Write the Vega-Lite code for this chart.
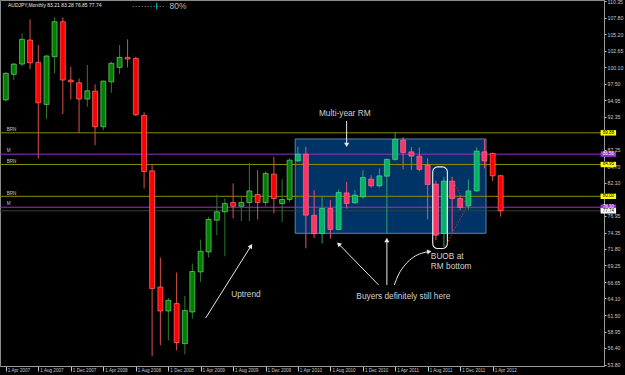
{
  "$schema": "https://vega.github.io/schema/vega-lite/v6.json",
  "width": 604,
  "height": 366,
  "autosize": {"type": "none"},
  "padding": {"left": 0, "top": 0, "right": 21, "bottom": 9},
  "background": "#000000",
  "config": {
    "view": {"stroke": "#8c8c8c", "strokeWidth": 1, "fill": "#000000"},
    "text": {"font": "Liberation Sans"},
    "axisX": {"labelAlign": "left", "labelBaseline": "top", "labelPadding": -4, "labelOffset": 1.5, "tickSize": 5, "labelOverlap": false, "labelFlush": false, "labelFontSize": 4.6, "labelFont": "Liberation Sans", "labelColor": "#c8c8c8", "tickColor": "#c8c8c8", "domainColor": "#9a9a9a", "grid": false},
    "axisY": {"labelPadding": 1, "tickSize": 2, "labelOverlap": false, "labelFlush": false, "labelFontSize": 5.2, "labelFont": "Liberation Sans", "labelColor": "#c8c8c8", "tickColor": "#c8c8c8", "domainColor": "#9a9a9a", "grid": false}
  },
  "datasets": {
    "candles": [
      {"date": "2007-04-01", "open": 94.99, "high": 99.3, "low": 94.8, "close": 99.14},
      {"date": "2007-05-01", "open": 98.98, "high": 100.75, "low": 98.09, "close": 100.58},
      {"date": "2007-06-01", "open": 100.58, "high": 105.36, "low": 100.2, "close": 104.43},
      {"date": "2007-07-01", "open": 104.32, "high": 107.54, "low": 99.8, "close": 100.78},
      {"date": "2007-08-01", "open": 100.85, "high": 103.54, "low": 85.89, "close": 94.55},
      {"date": "2007-09-01", "open": 94.3, "high": 102.0, "low": 92.01, "close": 101.83},
      {"date": "2007-10-01", "open": 101.72, "high": 107.85, "low": 99.13, "close": 107.17},
      {"date": "2007-11-01", "open": 107.17, "high": 107.85, "low": 92.79, "close": 98.09},
      {"date": "2007-12-01", "open": 98.09, "high": 100.16, "low": 95.08, "close": 97.82},
      {"date": "2008-01-01", "open": 97.67, "high": 98.35, "low": 89.88, "close": 95.13},
      {"date": "2008-02-01", "open": 95.13, "high": 100.43, "low": 93.93, "close": 96.42},
      {"date": "2008-03-01", "open": 96.37, "high": 97.42, "low": 87.96, "close": 90.82},
      {"date": "2008-04-01", "open": 90.82, "high": 98.0, "low": 90.3, "close": 97.93},
      {"date": "2008-05-01", "open": 97.82, "high": 100.94, "low": 96.11, "close": 100.69},
      {"date": "2008-06-01", "open": 100.07, "high": 103.54, "low": 99.02, "close": 101.62},
      {"date": "2008-07-01", "open": 101.62, "high": 104.43, "low": 100.07, "close": 101.36},
      {"date": "2008-08-01", "open": 101.47, "high": 101.72, "low": 92.5, "close": 92.68},
      {"date": "2008-09-01", "open": 92.59, "high": 93.06, "low": 81.22, "close": 83.87},
      {"date": "2008-10-01", "open": 83.96, "high": 85.0, "low": 55.1, "close": 65.64},
      {"date": "2008-11-01", "open": 65.89, "high": 70.47, "low": 56.81, "close": 62.15},
      {"date": "2008-12-01", "open": 62.15, "high": 64.18, "low": 57.59, "close": 63.82},
      {"date": "2009-01-01", "open": 63.31, "high": 68.13, "low": 56.03, "close": 57.23},
      {"date": "2009-02-01", "open": 57.07, "high": 64.49, "low": 55.41, "close": 62.22},
      {"date": "2009-03-01", "open": 62.0, "high": 69.54, "low": 60.97, "close": 68.29},
      {"date": "2009-04-01", "open": 68.23, "high": 73.27, "low": 66.67, "close": 71.45},
      {"date": "2009-05-01", "open": 71.34, "high": 76.8, "low": 70.47, "close": 76.39},
      {"date": "2009-06-01", "open": 76.28, "high": 80.28, "low": 73.95, "close": 77.58},
      {"date": "2009-07-01", "open": 77.58, "high": 79.66, "low": 70.68, "close": 78.88},
      {"date": "2009-08-01", "open": 79.04, "high": 82.0, "low": 76.55, "close": 78.46},
      {"date": "2009-09-01", "open": 78.46, "high": 79.91, "low": 76.17, "close": 79.04},
      {"date": "2009-10-01", "open": 79.04, "high": 85.21, "low": 76.17, "close": 80.84},
      {"date": "2009-11-01", "open": 80.28, "high": 84.07, "low": 76.39, "close": 79.04},
      {"date": "2009-12-01", "open": 79.04, "high": 83.9, "low": 78.46, "close": 83.56},
      {"date": "2010-01-01", "open": 83.45, "high": 86.14, "low": 77.33, "close": 79.66},
      {"date": "2010-02-01", "open": 78.88, "high": 82.67, "low": 76.02, "close": 79.51},
      {"date": "2010-03-01", "open": 79.51, "high": 85.89, "low": 79.13, "close": 85.63},
      {"date": "2010-04-01", "open": 85.52, "high": 87.7, "low": 85.36, "close": 86.56},
      {"date": "2010-05-01", "open": 86.56, "high": 87.7, "low": 71.9, "close": 77.06},
      {"date": "2010-06-01", "open": 77.06, "high": 80.95, "low": 73.53, "close": 74.21},
      {"date": "2010-07-01", "open": 74.21, "high": 79.91, "low": 72.65, "close": 78.1},
      {"date": "2010-08-01", "open": 78.1, "high": 79.4, "low": 73.43, "close": 74.83},
      {"date": "2010-09-01", "open": 74.83, "high": 81.06, "low": 74.72, "close": 80.6},
      {"date": "2010-10-01", "open": 80.53, "high": 82.25, "low": 78.1, "close": 78.88},
      {"date": "2010-11-01", "open": 78.98, "high": 80.95, "low": 78.88, "close": 80.18},
      {"date": "2010-12-01", "open": 79.91, "high": 84.07, "low": 79.66, "close": 82.93},
      {"date": "2011-01-01", "open": 82.67, "high": 83.29, "low": 81.37, "close": 81.63},
      {"date": "2011-02-01", "open": 81.63, "high": 84.33, "low": 81.37, "close": 83.18},
      {"date": "2011-03-01", "open": 83.13, "high": 85.89, "low": 74.2, "close": 85.74},
      {"date": "2011-04-01", "open": 85.74, "high": 90.0, "low": 85.52, "close": 88.85},
      {"date": "2011-05-01", "open": 88.74, "high": 89.2, "low": 84.2, "close": 86.83},
      {"date": "2011-06-01", "open": 86.92, "high": 87.7, "low": 84.07, "close": 86.25},
      {"date": "2011-07-01", "open": 86.25, "high": 87.6, "low": 83.9, "close": 84.18},
      {"date": "2011-08-01", "open": 84.85, "high": 85.9, "low": 76.4, "close": 81.84},
      {"date": "2011-09-01", "open": 81.89, "high": 82.41, "low": 73.17, "close": 73.95},
      {"date": "2011-10-01", "open": 74.21, "high": 83.03, "low": 72.12, "close": 82.36},
      {"date": "2011-11-01", "open": 82.36, "high": 83.03, "low": 74.46, "close": 79.66},
      {"date": "2011-12-01", "open": 79.66, "high": 80.18, "low": 77.84, "close": 78.26},
      {"date": "2012-01-01", "open": 78.51, "high": 82.62, "low": 77.95, "close": 80.84},
      {"date": "2012-02-01", "open": 80.84, "high": 87.6, "low": 80.69, "close": 87.03},
      {"date": "2012-03-01", "open": 86.92, "high": 88.85, "low": 84.33, "close": 85.52},
      {"date": "2012-04-01", "open": 86.67, "high": 86.8, "low": 82.36, "close": 83.18},
      {"date": "2012-05-01", "open": 83.21, "high": 83.28, "low": 76.85, "close": 77.74}
    ],
    "levels": [
      {"v": 89.88, "kind": "BRN"},
      {"v": 86.56, "kind": "M"},
      {"v": 84.95, "kind": "BRN"},
      {"v": 80.0, "kind": "BRN"},
      {"v": 78.3, "kind": "M"},
      {"v": 77.74, "kind": "bid"}
    ],
    "arrows": [
      {"id": "rm", "date": "2010-10-01", "v": 91.72, "seq": 0},
      {"id": "rm", "date": "2010-10-01", "v": 88.0, "seq": 1},
      {"id": "up", "date": "2009-04-20", "v": 61.06, "seq": 0},
      {"id": "up", "date": "2009-10-07", "v": 72.27, "seq": 1},
      {"id": "ba", "date": "2011-01-29", "v": 66.2, "seq": 0},
      {"id": "ba", "date": "2010-09-01", "v": 72.58, "seq": 1},
      {"id": "bb", "date": "2011-03-01", "v": 66.2, "seq": 0},
      {"id": "bb", "date": "2011-03-01", "v": 73.2, "seq": 1},
      {"id": "bc", "date": "2011-03-29", "v": 66.2, "seq": 0},
      {"id": "bc", "date": "2011-04-13", "v": 67.75, "seq": 1},
      {"id": "bc", "date": "2011-05-08", "v": 69.31, "seq": 2},
      {"id": "bc", "date": "2011-06-08", "v": 70.51, "seq": 3},
      {"id": "bc", "date": "2011-07-09", "v": 71.13, "seq": 4},
      {"id": "bc", "date": "2011-08-07", "v": 71.38, "seq": 5}
    ]
  },
  "layer": [
    {
      "data": {"values": [{"date": "2010-03-22", "date2": "2012-03-07", "v": 88.92, "v2": 74.24}]},
      "mark": {"type": "rect", "fill": "#003366", "stroke": "#5d83ad", "strokeWidth": 1},
      "encoding": {
        "x": {"field": "date", "type": "temporal", "title": null, "scale": {"type": "utc", "domain": [1175126400000, 1367712000000]}, "axis": {"values": [1175385600000, 1185926400000, 1196467200000, 1207008000000, 1217548800000, 1228089600000, 1238544000000, 1249084800000, 1259625600000, 1270080000000, 1280620800000, 1291161600000, 1301616000000, 1312156800000, 1322697600000, 1333238400000], "labelExpr": "utcFormat(datum.value, '%-d %b %Y')"}},
        "x2": {"field": "date2"},
        "y": {"field": "v", "type": "quantitative", "title": null, "scale": {"domain": [53.59, 110.55], "nice": false, "zero": false}, "axis": {"orient": "right", "values": [53.8, 56.4, 58.95, 61.5, 64.1, 66.65, 69.25, 71.8, 74.35, 76.95, 82.1, 84.7, 87.25, 92.35, 94.95, 97.5, 100.1, 102.65, 105.2, 107.8, 110.35], "format": ".2f"}},
        "y2": {"field": "v2"}
      }
    },
    {
      "data": {"name": "levels"},
      "mark": {"type": "rule", "strokeWidth": 1},
      "encoding": {
        "y": {"field": "v", "type": "quantitative", "title": null, "scale": {"domain": [53.59, 110.55], "nice": false, "zero": false}, "axis": {"orient": "right", "values": [53.8, 56.4, 58.95, 61.5, 64.1, 66.65, 69.25, 71.8, 74.35, 76.95, 82.1, 84.7, 87.25, 92.35, 94.95, 97.5, 100.1, 102.65, 105.2, 107.8, 110.35], "format": ".2f"}},
        "color": {"condition": [{"test": "datum.kind === 'M'", "value": "#9932cc"}, {"test": "datum.kind === 'bid'", "value": "#3c3c3c"}], "value": "#8c8c00"}
      }
    },
    {
      "data": {"name": "candles"},
      "transform": [{"filter": "!(time(datum.date) >= time('2010-04-01') && time(datum.date) <= time('2012-03-01'))"}],
      "mark": {"type": "rule", "strokeWidth": 1},
      "encoding": {
        "x": {"field": "date", "type": "temporal", "title": null, "scale": {"type": "utc", "domain": [1175126400000, 1367712000000]}, "axis": {"values": [1175385600000, 1185926400000, 1196467200000, 1207008000000, 1217548800000, 1228089600000, 1238544000000, 1249084800000, 1259625600000, 1270080000000, 1280620800000, 1291161600000, 1301616000000, 1312156800000, 1322697600000, 1333238400000], "labelExpr": "utcFormat(datum.value, '%-d %b %Y')"}},
        "y": {"field": "low", "type": "quantitative", "title": null, "scale": {"domain": [53.59, 110.55], "nice": false, "zero": false}, "axis": {"orient": "right", "values": [53.8, 56.4, 58.95, 61.5, 64.1, 66.65, 69.25, 71.8, 74.35, 76.95, 82.1, 84.7, 87.25, 92.35, 94.95, 97.5, 100.1, 102.65, 105.2, 107.8, 110.35], "format": ".2f"}},
        "y2": {"field": "high"},
        "color": {"condition": {"test": "datum.close >= datum.open", "value": "#2f7a2f"}, "value": "#d85050"}
      }
    },
    {
      "data": {"name": "candles"},
      "transform": [{"filter": "!(time(datum.date) >= time('2010-04-01') && time(datum.date) <= time('2012-03-01'))"}],
      "mark": {"type": "bar", "size": 5, "strokeWidth": 0.6},
      "encoding": {
        "x": {"field": "date", "type": "temporal", "title": null, "scale": {"type": "utc", "domain": [1175126400000, 1367712000000]}, "axis": {"values": [1175385600000, 1185926400000, 1196467200000, 1207008000000, 1217548800000, 1228089600000, 1238544000000, 1249084800000, 1259625600000, 1270080000000, 1280620800000, 1291161600000, 1301616000000, 1312156800000, 1322697600000, 1333238400000], "labelExpr": "utcFormat(datum.value, '%-d %b %Y')"}},
        "y": {"field": "open", "type": "quantitative", "title": null, "scale": {"domain": [53.59, 110.55], "nice": false, "zero": false}, "axis": {"orient": "right", "values": [53.8, 56.4, 58.95, 61.5, 64.1, 66.65, 69.25, 71.8, 74.35, 76.95, 82.1, 84.7, 87.25, 92.35, 94.95, 97.5, 100.1, 102.65, 105.2, 107.8, 110.35], "format": ".2f"}},
        "y2": {"field": "close"},
        "fill": {"condition": {"test": "datum.close >= datum.open", "value": "#008000"}, "value": "#ff0000"},
        "stroke": {"condition": {"test": "datum.close >= datum.open", "value": "#8fe08f"}, "value": "#ff8a8a"}
      }
    },
    {
      "data": {"name": "candles"},
      "transform": [{"filter": "time(datum.date) >= time('2010-04-01') && time(datum.date) <= time('2012-03-01')"}],
      "mark": {"type": "rule", "strokeWidth": 1},
      "encoding": {
        "x": {"field": "date", "type": "temporal", "title": null, "scale": {"type": "utc", "domain": [1175126400000, 1367712000000]}, "axis": {"values": [1175385600000, 1185926400000, 1196467200000, 1207008000000, 1217548800000, 1228089600000, 1238544000000, 1249084800000, 1259625600000, 1270080000000, 1280620800000, 1291161600000, 1301616000000, 1312156800000, 1322697600000, 1333238400000], "labelExpr": "utcFormat(datum.value, '%-d %b %Y')"}},
        "y": {"field": "low", "type": "quantitative", "title": null, "scale": {"domain": [53.59, 110.55], "nice": false, "zero": false}, "axis": {"orient": "right", "values": [53.8, 56.4, 58.95, 61.5, 64.1, 66.65, 69.25, 71.8, 74.35, 76.95, 82.1, 84.7, 87.25, 92.35, 94.95, 97.5, 100.1, 102.65, 105.2, 107.8, 110.35], "format": ".2f"}},
        "y2": {"field": "high"},
        "color": {"condition": {"test": "datum.close >= datum.open", "value": "#2fa070"}, "value": "#e85078"}
      }
    },
    {
      "data": {"name": "candles"},
      "transform": [{"filter": "time(datum.date) >= time('2010-04-01') && time(datum.date) <= time('2012-03-01')"}],
      "mark": {"type": "bar", "size": 5, "strokeWidth": 0.6},
      "encoding": {
        "x": {"field": "date", "type": "temporal", "title": null, "scale": {"type": "utc", "domain": [1175126400000, 1367712000000]}, "axis": {"values": [1175385600000, 1185926400000, 1196467200000, 1207008000000, 1217548800000, 1228089600000, 1238544000000, 1249084800000, 1259625600000, 1270080000000, 1280620800000, 1291161600000, 1301616000000, 1312156800000, 1322697600000, 1333238400000], "labelExpr": "utcFormat(datum.value, '%-d %b %Y')"}},
        "y": {"field": "open", "type": "quantitative", "title": null, "scale": {"domain": [53.59, 110.55], "nice": false, "zero": false}, "axis": {"orient": "right", "values": [53.8, 56.4, 58.95, 61.5, 64.1, 66.65, 69.25, 71.8, 74.35, 76.95, 82.1, 84.7, 87.25, 92.35, 94.95, 97.5, 100.1, 102.65, 105.2, 107.8, 110.35], "format": ".2f"}},
        "y2": {"field": "close"},
        "fill": {"condition": {"test": "datum.close >= datum.open", "value": "#00b366"}, "value": "#ff3366"},
        "stroke": {"condition": {"test": "datum.close >= datum.open", "value": "#5fe0a0"}, "value": "#ff7a9a"}
      }
    },
    {
      "data": {"values": [{"date": "2011-08-20", "date2": "2011-10-14", "v": 84.58, "v2": 71.87}]},
      "mark": {"type": "rect", "fillOpacity": 0, "fill": "#000000", "stroke": "#f0f0f0", "strokeWidth": 1.1, "cornerRadius": 5},
      "encoding": {
        "x": {"field": "date", "type": "temporal", "title": null, "scale": {"type": "utc", "domain": [1175126400000, 1367712000000]}, "axis": {"values": [1175385600000, 1185926400000, 1196467200000, 1207008000000, 1217548800000, 1228089600000, 1238544000000, 1249084800000, 1259625600000, 1270080000000, 1280620800000, 1291161600000, 1301616000000, 1312156800000, 1322697600000, 1333238400000], "labelExpr": "utcFormat(datum.value, '%-d %b %Y')"}},
        "x2": {"field": "date2"},
        "y": {"field": "v", "type": "quantitative", "title": null, "scale": {"domain": [53.59, 110.55], "nice": false, "zero": false}, "axis": {"orient": "right", "values": [53.8, 56.4, 58.95, 61.5, 64.1, 66.65, 69.25, 71.8, 74.35, 76.95, 82.1, 84.7, 87.25, 92.35, 94.95, 97.5, 100.1, 102.65, 105.2, 107.8, 110.35], "format": ".2f"}},
        "y2": {"field": "v2"}
      }
    },
    {
      "data": {"values": [
        {"date": "2011-10-27", "v": 83.03, "seq": 0},
        {"date": "2011-12-27", "v": 78.46, "seq": 1},
        {"date": "2011-10-02", "v": 71.87, "seq": 2}
      ]},
      "mark": {"type": "line", "color": "#cc3333", "strokeWidth": 0.9, "strokeDash": [1.5, 1.5]},
      "encoding": {
        "x": {"field": "date", "type": "temporal", "title": null, "scale": {"type": "utc", "domain": [1175126400000, 1367712000000]}, "axis": {"values": [1175385600000, 1185926400000, 1196467200000, 1207008000000, 1217548800000, 1228089600000, 1238544000000, 1249084800000, 1259625600000, 1270080000000, 1280620800000, 1291161600000, 1301616000000, 1312156800000, 1322697600000, 1333238400000], "labelExpr": "utcFormat(datum.value, '%-d %b %Y')"}},
        "y": {"field": "v", "type": "quantitative", "title": null, "scale": {"domain": [53.59, 110.55], "nice": false, "zero": false}, "axis": {"orient": "right", "values": [53.8, 56.4, 58.95, 61.5, 64.1, 66.65, 69.25, 71.8, 74.35, 76.95, 82.1, 84.7, 87.25, 92.35, 94.95, 97.5, 100.1, 102.65, 105.2, 107.8, 110.35], "format": ".2f"}},
        "order": {"field": "seq", "type": "quantitative"}
      }
    },
    {
      "data": {"name": "arrows"},
      "transform": [{"filter": "datum.id !== 'bc'"}],
      "mark": {"type": "line", "color": "#e8e8e8", "strokeWidth": 1},
      "encoding": {
        "x": {"field": "date", "type": "temporal", "title": null, "scale": {"type": "utc", "domain": [1175126400000, 1367712000000]}, "axis": {"values": [1175385600000, 1185926400000, 1196467200000, 1207008000000, 1217548800000, 1228089600000, 1238544000000, 1249084800000, 1259625600000, 1270080000000, 1280620800000, 1291161600000, 1301616000000, 1312156800000, 1322697600000, 1333238400000], "labelExpr": "utcFormat(datum.value, '%-d %b %Y')"}},
        "y": {"field": "v", "type": "quantitative", "title": null, "scale": {"domain": [53.59, 110.55], "nice": false, "zero": false}, "axis": {"orient": "right", "values": [53.8, 56.4, 58.95, 61.5, 64.1, 66.65, 69.25, 71.8, 74.35, 76.95, 82.1, 84.7, 87.25, 92.35, 94.95, 97.5, 100.1, 102.65, 105.2, 107.8, 110.35], "format": ".2f"}},
        "detail": {"field": "id", "type": "nominal"},
        "order": {"field": "seq", "type": "quantitative"}
      }
    },
    {
      "data": {"name": "arrows"},
      "transform": [{"filter": "datum.id === 'bc'"}],
      "mark": {"type": "line", "color": "#e8e8e8", "strokeWidth": 1, "interpolate": "monotone"},
      "encoding": {
        "x": {"field": "date", "type": "temporal", "title": null, "scale": {"type": "utc", "domain": [1175126400000, 1367712000000]}, "axis": {"values": [1175385600000, 1185926400000, 1196467200000, 1207008000000, 1217548800000, 1228089600000, 1238544000000, 1249084800000, 1259625600000, 1270080000000, 1280620800000, 1291161600000, 1301616000000, 1312156800000, 1322697600000, 1333238400000], "labelExpr": "utcFormat(datum.value, '%-d %b %Y')"}},
        "y": {"field": "v", "type": "quantitative", "title": null, "scale": {"domain": [53.59, 110.55], "nice": false, "zero": false}, "axis": {"orient": "right", "values": [53.8, 56.4, 58.95, 61.5, 64.1, 66.65, 69.25, 71.8, 74.35, 76.95, 82.1, 84.7, 87.25, 92.35, 94.95, 97.5, 100.1, 102.65, 105.2, 107.8, 110.35], "format": ".2f"}},
        "order": {"field": "seq", "type": "quantitative"}
      }
    },
    {
      "data": {"name": "arrows"},
      "transform": [{"filter": "(datum.id === 'bc' && datum.seq === 5) || (datum.id !== 'bc' && datum.seq === 1)"}],
      "mark": {"type": "point", "shape": "triangle-up", "filled": true, "color": "#e8e8e8", "size": 26, "opacity": 1},
      "encoding": {
        "x": {"field": "date", "type": "temporal", "title": null, "scale": {"type": "utc", "domain": [1175126400000, 1367712000000]}, "axis": {"values": [1175385600000, 1185926400000, 1196467200000, 1207008000000, 1217548800000, 1228089600000, 1238544000000, 1249084800000, 1259625600000, 1270080000000, 1280620800000, 1291161600000, 1301616000000, 1312156800000, 1322697600000, 1333238400000], "labelExpr": "utcFormat(datum.value, '%-d %b %Y')"}},
        "y": {"field": "v", "type": "quantitative", "title": null, "scale": {"domain": [53.59, 110.55], "nice": false, "zero": false}, "axis": {"orient": "right", "values": [53.8, 56.4, 58.95, 61.5, 64.1, 66.65, 69.25, 71.8, 74.35, 76.95, 82.1, 84.7, 87.25, 92.35, 94.95, 97.5, 100.1, 102.65, 105.2, 107.8, 110.35], "format": ".2f"}},
        "angle": {"condition": [
          {"test": "datum.id === 'rm'", "value": 180},
          {"test": "datum.id === 'up'", "value": 33},
          {"test": "datum.id === 'ba'", "value": 315},
          {"test": "datum.id === 'bc'", "value": 81}
        ], "value": 0}
      }
    },
    {
      "data": {"values": [
        {"date": "2010-09-24", "v": 92.81, "label": "Multi-year RM"},
        {"date": "2009-09-18", "v": 64.64, "label": "Uptrend"},
        {"date": "2011-05-02", "v": 64.33, "label": "Buyers definitely still here"}
      ]},
      "mark": {"type": "text", "fontSize": 8.3, "color": "#d2d2d2", "align": "center", "baseline": "middle"},
      "encoding": {
        "x": {"field": "date", "type": "temporal", "title": null, "scale": {"type": "utc", "domain": [1175126400000, 1367712000000]}, "axis": {"values": [1175385600000, 1185926400000, 1196467200000, 1207008000000, 1217548800000, 1228089600000, 1238544000000, 1249084800000, 1259625600000, 1270080000000, 1280620800000, 1291161600000, 1301616000000, 1312156800000, 1322697600000, 1333238400000], "labelExpr": "utcFormat(datum.value, '%-d %b %Y')"}},
        "y": {"field": "v", "type": "quantitative", "title": null, "scale": {"domain": [53.59, 110.55], "nice": false, "zero": false}, "axis": {"orient": "right", "values": [53.8, 56.4, 58.95, 61.5, 64.1, 66.65, 69.25, 71.8, 74.35, 76.95, 82.1, 84.7, 87.25, 92.35, 94.95, 97.5, 100.1, 102.65, 105.2, 107.8, 110.35], "format": ".2f"}},
        "text": {"field": "label"}
      }
    },
    {
      "data": {"values": [
        {"date": "2011-08-13", "v": 70.57, "label": "BUOB at"},
        {"date": "2011-08-13", "v": 69.07, "label": "RM bottom"}
      ]},
      "mark": {"type": "text", "fontSize": 8.3, "color": "#d2d2d2", "align": "left", "baseline": "middle"},
      "encoding": {
        "x": {"field": "date", "type": "temporal", "title": null, "scale": {"type": "utc", "domain": [1175126400000, 1367712000000]}, "axis": {"values": [1175385600000, 1185926400000, 1196467200000, 1207008000000, 1217548800000, 1228089600000, 1238544000000, 1249084800000, 1259625600000, 1270080000000, 1280620800000, 1291161600000, 1301616000000, 1312156800000, 1322697600000, 1333238400000], "labelExpr": "utcFormat(datum.value, '%-d %b %Y')"}},
        "y": {"field": "v", "type": "quantitative", "title": null, "scale": {"domain": [53.59, 110.55], "nice": false, "zero": false}, "axis": {"orient": "right", "values": [53.8, 56.4, 58.95, 61.5, 64.1, 66.65, 69.25, 71.8, 74.35, 76.95, 82.1, 84.7, 87.25, 92.35, 94.95, 97.5, 100.1, 102.65, 105.2, 107.8, 110.35], "format": ".2f"}},
        "text": {"field": "label"}
      }
    },
    {
      "data": {"values": [{"date": "2007-04-09", "v": 109.77, "label": "AUDJPY,Monthly   83.21 83.28 76.85 77.74"}]},
      "mark": {"type": "text", "fontSize": 5, "color": "#e6e6e6", "align": "left", "baseline": "middle"},
      "encoding": {
        "x": {"field": "date", "type": "temporal", "title": null, "scale": {"type": "utc", "domain": [1175126400000, 1367712000000]}, "axis": {"values": [1175385600000, 1185926400000, 1196467200000, 1207008000000, 1217548800000, 1228089600000, 1238544000000, 1249084800000, 1259625600000, 1270080000000, 1280620800000, 1291161600000, 1301616000000, 1312156800000, 1322697600000, 1333238400000], "labelExpr": "utcFormat(datum.value, '%-d %b %Y')"}},
        "y": {"field": "v", "type": "quantitative", "title": null, "scale": {"domain": [53.59, 110.55], "nice": false, "zero": false}, "axis": {"orient": "right", "values": [53.8, 56.4, 58.95, 61.5, 64.1, 66.65, 69.25, 71.8, 74.35, 76.95, 82.1, 84.7, 87.25, 92.35, 94.95, 97.5, 100.1, 102.65, 105.2, 107.8, 110.35], "format": ".2f"}},
        "text": {"field": "label"}
      }
    },
    {
      "data": {"values": [{"date": "2009-01-06", "v": 109.69, "label": "80%"}]},
      "mark": {"type": "text", "fontSize": 8.5, "color": "#bdbdbd", "align": "center", "baseline": "middle"},
      "encoding": {
        "x": {"field": "date", "type": "temporal", "title": null, "scale": {"type": "utc", "domain": [1175126400000, 1367712000000]}, "axis": {"values": [1175385600000, 1185926400000, 1196467200000, 1207008000000, 1217548800000, 1228089600000, 1238544000000, 1249084800000, 1259625600000, 1270080000000, 1280620800000, 1291161600000, 1301616000000, 1312156800000, 1322697600000, 1333238400000], "labelExpr": "utcFormat(datum.value, '%-d %b %Y')"}},
        "y": {"field": "v", "type": "quantitative", "title": null, "scale": {"domain": [53.59, 110.55], "nice": false, "zero": false}, "axis": {"orient": "right", "values": [53.8, 56.4, 58.95, 61.5, 64.1, 66.65, 69.25, 71.8, 74.35, 76.95, 82.1, 84.7, 87.25, 92.35, 94.95, 97.5, 100.1, 102.65, 105.2, 107.8, 110.35], "format": ".2f"}},
        "text": {"field": "label"}
      }
    },
    {
      "data": {"values": [{"date": "2008-07-20", "date2": "2008-11-19", "v": 109.54}]},
      "mark": {"type": "rule", "color": "#9a9a9a", "strokeWidth": 1, "strokeDash": [1, 2]},
      "encoding": {
        "x": {"field": "date", "type": "temporal", "title": null, "scale": {"type": "utc", "domain": [1175126400000, 1367712000000]}, "axis": {"values": [1175385600000, 1185926400000, 1196467200000, 1207008000000, 1217548800000, 1228089600000, 1238544000000, 1249084800000, 1259625600000, 1270080000000, 1280620800000, 1291161600000, 1301616000000, 1312156800000, 1322697600000, 1333238400000], "labelExpr": "utcFormat(datum.value, '%-d %b %Y')"}},
        "x2": {"field": "date2"},
        "y": {"field": "v", "type": "quantitative", "title": null, "scale": {"domain": [53.59, 110.55], "nice": false, "zero": false}, "axis": {"orient": "right", "values": [53.8, 56.4, 58.95, 61.5, 64.1, 66.65, 69.25, 71.8, 74.35, 76.95, 82.1, 84.7, 87.25, 92.35, 94.95, 97.5, 100.1, 102.65, 105.2, 107.8, 110.35], "format": ".2f"}}
      }
    },
    {
      "data": {"values": [{"date": "2008-10-18", "v": 110.13, "v2": 109.1}]},
      "mark": {"type": "rule", "color": "#00c0c0", "strokeWidth": 1},
      "encoding": {
        "x": {"field": "date", "type": "temporal", "title": null, "scale": {"type": "utc", "domain": [1175126400000, 1367712000000]}, "axis": {"values": [1175385600000, 1185926400000, 1196467200000, 1207008000000, 1217548800000, 1228089600000, 1238544000000, 1249084800000, 1259625600000, 1270080000000, 1280620800000, 1291161600000, 1301616000000, 1312156800000, 1322697600000, 1333238400000], "labelExpr": "utcFormat(datum.value, '%-d %b %Y')"}},
        "y": {"field": "v", "type": "quantitative", "title": null, "scale": {"domain": [53.59, 110.55], "nice": false, "zero": false}, "axis": {"orient": "right", "values": [53.8, 56.4, 58.95, 61.5, 64.1, 66.65, 69.25, 71.8, 74.35, 76.95, 82.1, 84.7, 87.25, 92.35, 94.95, 97.5, 100.1, 102.65, 105.2, 107.8, 110.35], "format": ".2f"}},
        "y2": {"field": "v2"}
      }
    },
    {
      "data": {"name": "levels"},
      "transform": [{"filter": "datum.kind !== 'bid'"}],
      "mark": {"type": "text", "fontSize": 4.5, "color": "#c8c8c8", "align": "left", "baseline": "bottom", "dx": 1.5, "dy": -0.8},
      "encoding": {
        "x": {"datum": 1175212800000, "type": "temporal", "title": null, "scale": {"type": "utc", "domain": [1175126400000, 1367712000000]}, "axis": {"values": [1175385600000, 1185926400000, 1196467200000, 1207008000000, 1217548800000, 1228089600000, 1238544000000, 1249084800000, 1259625600000, 1270080000000, 1280620800000, 1291161600000, 1301616000000, 1312156800000, 1322697600000, 1333238400000], "labelExpr": "utcFormat(datum.value, '%-d %b %Y')"}},
        "y": {"field": "v", "type": "quantitative", "title": null, "scale": {"domain": [53.59, 110.55], "nice": false, "zero": false}, "axis": {"orient": "right", "values": [53.8, 56.4, 58.95, 61.5, 64.1, 66.65, 69.25, 71.8, 74.35, 76.95, 82.1, 84.7, 87.25, 92.35, 94.95, 97.5, 100.1, 102.65, 105.2, 107.8, 110.35], "format": ".2f"}},
        "text": {"field": "kind"}
      }
    },
    {
      "data": {"name": "levels"},
      "mark": {"type": "point", "shape": "M-1,-0.35L1,-0.35L1,0.35L-1,0.35Z", "filled": true, "size": 240, "opacity": 1, "strokeWidth": 0},
      "encoding": {
        "x": {"datum": 1370736000000, "type": "temporal", "title": null, "scale": {"type": "utc", "domain": [1175126400000, 1367712000000]}, "axis": {"values": [1175385600000, 1185926400000, 1196467200000, 1207008000000, 1217548800000, 1228089600000, 1238544000000, 1249084800000, 1259625600000, 1270080000000, 1280620800000, 1291161600000, 1301616000000, 1312156800000, 1322697600000, 1333238400000], "labelExpr": "utcFormat(datum.value, '%-d %b %Y')"}},
        "y": {"field": "v", "type": "quantitative", "title": null, "scale": {"domain": [53.59, 110.55], "nice": false, "zero": false}, "axis": {"orient": "right", "values": [53.8, 56.4, 58.95, 61.5, 64.1, 66.65, 69.25, 71.8, 74.35, 76.95, 82.1, 84.7, 87.25, 92.35, 94.95, 97.5, 100.1, 102.65, 105.2, 107.8, 110.35], "format": ".2f"}},
        "color": {"condition": [{"test": "datum.kind === 'M'", "value": "#9932cc"}, {"test": "datum.kind === 'bid'", "value": "#ffffff"}], "value": "#ffff00"}
      }
    },
    {
      "data": {"name": "levels"},
      "mark": {"type": "text", "fontSize": 4.5, "align": "center", "baseline": "middle"},
      "encoding": {
        "x": {"datum": 1370736000000, "type": "temporal", "title": null, "scale": {"type": "utc", "domain": [1175126400000, 1367712000000]}, "axis": {"values": [1175385600000, 1185926400000, 1196467200000, 1207008000000, 1217548800000, 1228089600000, 1238544000000, 1249084800000, 1259625600000, 1270080000000, 1280620800000, 1291161600000, 1301616000000, 1312156800000, 1322697600000, 1333238400000], "labelExpr": "utcFormat(datum.value, '%-d %b %Y')"}},
        "y": {"field": "v", "type": "quantitative", "title": null, "scale": {"domain": [53.59, 110.55], "nice": false, "zero": false}, "axis": {"orient": "right", "values": [53.8, 56.4, 58.95, 61.5, 64.1, 66.65, 69.25, 71.8, 74.35, 76.95, 82.1, 84.7, 87.25, 92.35, 94.95, 97.5, 100.1, 102.65, 105.2, 107.8, 110.35], "format": ".2f"}},
        "text": {"field": "v", "type": "quantitative", "format": ".2f"},
        "color": {"condition": {"test": "datum.kind === 'M'", "value": "#ffffff"}, "value": "#000000"}
      }
    }
  ]
}
